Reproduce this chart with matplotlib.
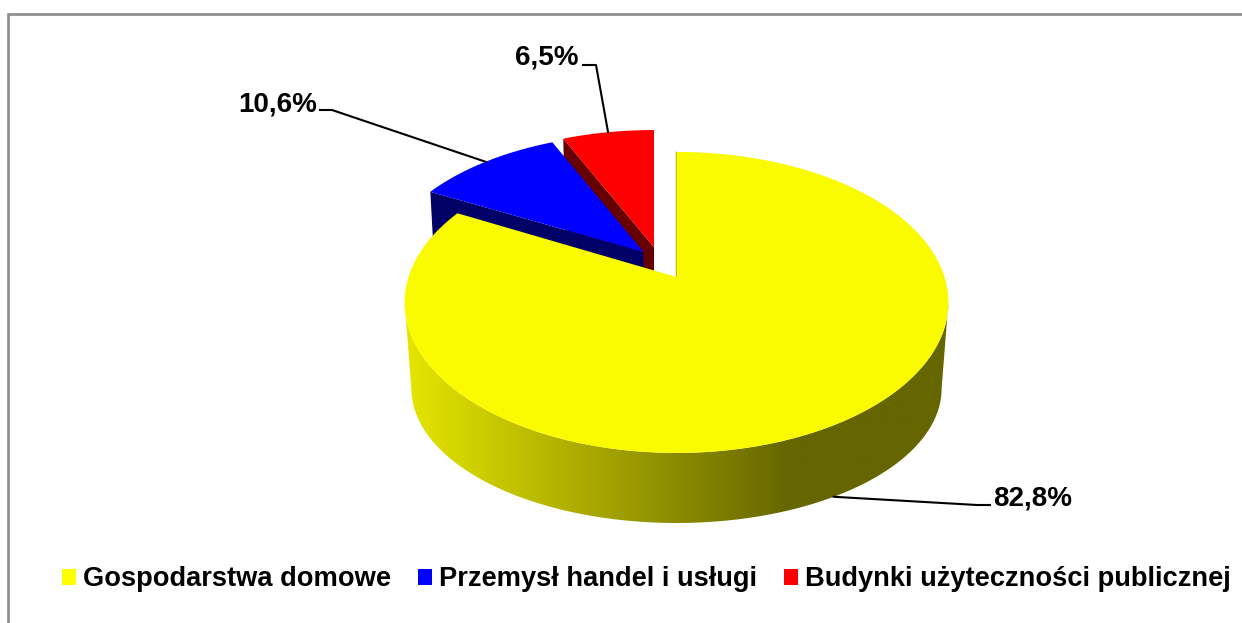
import numpy as np
import matplotlib
matplotlib.use('Agg')
import matplotlib.pyplot as plt
from matplotlib.colors import LinearSegmentedColormap
from matplotlib.patches import Polygon, Rectangle

plt.rcParams['font.family'] = ['Liberation Sans', 'DejaVu Sans']

labels = ['Gospodarstwa domowe', 'Przemysł handel i usługi', 'Budynki użyteczności publicznej']
shares = [82.8, 10.6, 6.5]
share_text = ['82,8%', '10,6%', '6,5%']
colors = ['#FAFA00', '#0000FF', '#FF0000']
key_colors = ['#FFFF00', '#0000FF', '#FF0000']
side_colors = ['#666600', '#000066', '#660000']

# perspective of the pie, pixels
cx, cy = 676.5, 277
A, a, b = 268, 146.2, 0.169
kx, ky, low_y = 0.975, 0.894, 365.7
# how far each slice is pulled out from the yellow apex
shift_x = [0, -33, -22.5]
shift_y = [0, 0.176, 0.211]

def project(theta, r, dx, dy, lower=False):
    X = r * np.sin(theta)
    Y = r * np.cos(theta) + dy
    d = 1 + b * Y
    x = A * X / d
    y = -a * Y / d
    if lower:
        return cx + kx * x + dx, low_y + ky * y
    return cx + x + dx, cy + y

fig = plt.figure(figsize=(12.42, 6.23), dpi=100)
ax = fig.add_axes([0, 0, 1, 1])

# slice angles, clockwise from the top
ends = np.cumsum(shares) / 100 * 2 * np.pi
starts = np.r_[0, ends[:-1]]
ends[-1] = 2 * np.pi

# frame
ax.plot([8, 8, 1242], [623, 13.5, 13.5], color='#8c8c8c', lw=1.9, solid_joinstyle='miter', zorder=1)

# red, then blue, then yellow in front
for i in [2, 1]:
    x0, y0 = project(starts[i], 1, shift_x[i], shift_y[i])
    xa, ya = project(0, 0, shift_x[i], shift_y[i])
    x1, y1 = project(starts[i], 1, shift_x[i], shift_y[i], True)
    xb, yb = project(0, 0, shift_x[i], shift_y[i], True)
    ax.add_patch(Polygon([(x0, y0), (xa, ya), (xb, yb), (x1, y1)], fc=side_colors[i], ec='none', zorder=2 + (2 - i) * 2))
    t = np.linspace(starts[i], ends[i], 100)
    xs, ys = project(t, 1, shift_x[i], shift_y[i])
    ax.add_patch(Polygon(np.r_[np.c_[xs, ys], [[xa, ya]]], fc=colors[i], ec='none', zorder=3 + (2 - i) * 2))

# yellow wall with the gradient, only the front part between the widest points
t_right = np.arccos(-b)
t = np.linspace(t_right, 2 * np.pi - t_right, 400)
xu, yu = project(t, 1, 0, 0)
xl, yl = project(t, 1, 0, 0, True)
wall = Polygon(np.r_[np.c_[xu, yu], np.c_[xl, yl][::-1]], fc='none', ec='none', transform=ax.transData)
ax.add_patch(wall)
cmap = LinearSegmentedColormap.from_list('wall', [(0, '#E6E600'), (0.706, '#666600'), (1, '#666600')])
img = ax.imshow(np.linspace(0, 1, 512).reshape(1, -1), cmap=cmap, extent=[405, 950, 530, 250], aspect='auto', zorder=6)
img.set_clip_path(wall)

# thin visible cut edge, then the top
xa, ya = project(0, 0, 0, 0)
x0, y0 = project(0, 1, 0, 0)
ax.plot([x0 - 1, xa - 1], [y0, ya], color='#8f8f20', lw=1, zorder=7)
t = np.linspace(starts[0], ends[0], 500)
xu, yu = project(t, 1, 0, 0)
ax.add_patch(Polygon(np.r_[np.c_[xu, yu], [[xa, ya]]], fc=colors[0], ec='none', zorder=8))

# leader lines start on the rim at the middle of each slice
mids = (starts + ends) / 2
label_x = [993, 317, 579]
label_y = [505.5, 111, 64.5]
knee = [[(977, 505), (990, 505)], [(332, 110), (320, 110)], [(596, 65), (583, 65)]]
for i in range(3):
    px, py = project(mids[i], 1, shift_x[i], shift_y[i], i == 0)
    pts = [(px, py)] + knee[i]
    ax.plot([p[0] for p in pts], [p[1] for p in pts], color='black', lw=1.5, zorder=5 if i else 9)
    ax.text(label_x[i], label_y[i], share_text[i], fontsize=20, fontweight='bold',
            ha='left' if i == 0 else 'right', va='baseline', zorder=10)

# legend
key_x = [62, 418, 784]
text_x = [83, 439, 805]
for i in range(3):
    ax.add_patch(Rectangle((key_x[i], 569), 14, 16, fc=key_colors[i], ec='none'))
    ax.text(text_x[i], 586, labels[i], fontsize=19.65, fontweight='bold', ha='left', va='baseline')

ax.set_xlim(0, 1242)
ax.set_ylim(623, 0)
ax.axis('off')
fig.savefig('out.png', dpi=100)
